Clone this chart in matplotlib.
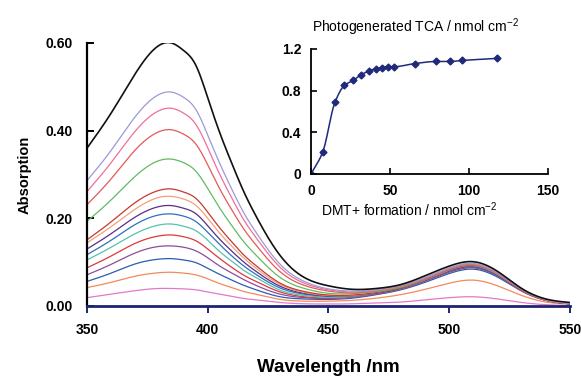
import numpy as np
import matplotlib
matplotlib.use("Agg")
import matplotlib.pyplot as plt

plt.rcParams['font.family'] = ['Liberation Sans', 'DejaVu Sans']
plt.rcParams['mathtext.fontset'] = 'custom'
plt.rcParams['mathtext.rm'] = 'Liberation Sans'
plt.rcParams['mathtext.it'] = 'Liberation Sans:italic'
plt.rcParams['mathtext.bf'] = 'Liberation Sans:bold'

# ---------------- data ----------------
wavelength = [350, 360, 370, 380, 385, 390, 395, 400, 405, 410, 415, 420, 430,
              440, 450, 460, 470, 480, 490, 500, 510, 520, 530, 540, 550]

spec_black = [.360, .440, .530, .595, .600, .583, .550, .475, .395, .325, .260, .205, .115,
              .065, .046, .038, .040, .049, .069, .091, .101, .079, .040, .016, .008]
spec_lavender = [.286, .355, .432, .483, .488, .476, .449, .390, .325, .266, .212, .168, .095,
                 .056, .039, .034, .037, .047, .065, .087, .097, .076, .039, .015, .006]
spec_pink = [.261, .327, .399, .446, .451, .440, .415, .361, .300, .246, .196, .156, .088,
             .052, .037, .032, .036, .046, .064, .086, .096, .075, .038, .014, .006]
spec_salmon = [.231, .290, .356, .398, .402, .392, .370, .322, .267, .219, .175, .139, .078,
               .047, .034, .030, .035, .045, .063, .085, .095, .074, .038, .014, .006]
spec_green = [.193, .242, .296, .332, .335, .327, .308, .268, .223, .183, .146, .116, .065,
              .040, .029, .028, .033, .043, .062, .084, .094, .073, .038, .014, .006]
spec_darkred = [.151, .192, .236, .264, .267, .260, .246, .214, .178, .146, .116, .092, .052,
                .033, .025, .025, .031, .042, .061, .083, .093, .073, .037, .014, .006]
spec_orange = [.144, .181, .221, .248, .250, .244, .230, .200, .166, .136, .109, .086, .049,
               .031, .024, .024, .031, .042, .060, .082, .092, .072, .037, .014, .006]
spec_purple = [.130, .165, .203, .227, .229, .223, .211, .183, .152, .125, .100, .079, .045,
               .029, .023, .024, .030, .041, .060, .081, .091, .071, .036, .014, .005]
spec_blue = [.117, .150, .186, .208, .210, .205, .193, .168, .140, .114, .091, .072, .041,
             .027, .022, .023, .029, .040, .058, .079, .089, .069, .036, .013, .005]
spec_teal = [.105, .134, .165, .185, .187, .182, .172, .150, .124, .102, .081, .065, .036,
             .024, .020, .022, .029, .040, .059, .080, .090, .070, .036, .0135, .005]
spec_red = [.087, .114, .143, .160, .162, .158, .149, .130, .108, .088, .070, .056, .032,
            .021, .018, .021, .028, .039, .057, .078, .088, .069, .035, .013, .005]
spec_violet = [.071, .095, .121, .136, .137, .134, .126, .110, .091, .075, .060, .047, .027,
               .019, .017, .020, .027, .038, .057, .077, .087, .068, .035, .013, .005]
spec_blue2 = [.056, .075, .096, .107, .108, .105, .099, .086, .072, .059, .047, .037, .021,
              .016, .015, .018, .026, .037, .054, .074, .084, .066, .034, .013, .005]
spec_orange2 = [.042, .054, .068, .076, .077, .075, .071, .062, .051, .042, .033, .027, .015,
                .011, .011, .013, .018, .026, .038, .052, .059, .046, .024, .009, .004]
spec_pink2 = [.019, .027, .035, .040, .040, .039, .037, .032, .027, .022, .017, .014, .008,
              .005, .0045, .005, .007, .009, .014, .019, .021, .016, .008, .003, .001]

spectra = [spec_black, spec_lavender, spec_pink, spec_salmon, spec_green, spec_darkred,
           spec_orange, spec_purple, spec_blue, spec_teal, spec_red, spec_violet,
           spec_blue2, spec_orange2, spec_pink2]
spec_colors = ['#111111', '#9a9ad8', '#ef6f98', '#e25a55', '#62bb62', '#c43a2e',
               '#f2a27a', '#5a2d86', '#2f6fbf', '#55c2ac', '#e0383a', '#8c4c9e',
               '#2a5cb2', '#f28a5c', '#e07ac8']

dmt = [0, 7.4, 15.2, 21.1, 26.8, 31.4, 36.9, 41.1, 45.1, 48.7, 52.5, 65.6, 78.9, 88.0, 95.8, 118]
tca = [0, 0.21, 0.69, 0.85, 0.90, 0.95, 0.99, 1.01, 1.02, 1.03, 1.03, 1.06, 1.08, 1.08, 1.09, 1.11]

main_xticks = [350, 400, 450, 500, 550]
main_yticks = [0.0, 0.2, 0.4, 0.6]
inset_xticks = [0, 50, 100, 150]
inset_yticks = [0, 0.4, 0.8, 1.2]


def pchip(x, y, xn):
    x = np.asarray(x, float); y = np.asarray(y, float)
    h = np.diff(x); d = np.diff(y) / h
    n = len(x)
    m = np.zeros(n)
    for k in range(1, n - 1):
        if d[k - 1] * d[k] > 0:
            w1 = 2 * h[k] + h[k - 1]; w2 = h[k] + 2 * h[k - 1]
            m[k] = (w1 + w2) / (w1 / d[k - 1] + w2 / d[k])
    m[0] = d[0]; m[-1] = d[-1]
    idx = np.clip(np.searchsorted(x, xn) - 1, 0, n - 2)
    t = (xn - x[idx]) / h[idx]
    h00 = 2 * t**3 - 3 * t**2 + 1; h10 = t**3 - 2 * t**2 + t
    h01 = -2 * t**3 + 3 * t**2; h11 = t**3 - t**2
    return h00 * y[idx] + h10 * h[idx] * m[idx] + h01 * y[idx + 1] + h11 * h[idx] * m[idx + 1]


def cspline(x, y, xn):
    """Natural cubic spline used only to draw a smooth line through the points."""
    x = np.asarray(x, float); y = np.asarray(y, float)
    n = len(x); h = np.diff(x)
    A = np.zeros((n, n)); r = np.zeros(n)
    A[0, 0] = 1; A[-1, -1] = 1
    for i in range(1, n - 1):
        A[i, i - 1] = h[i - 1]; A[i, i] = 2 * (h[i - 1] + h[i]); A[i, i + 1] = h[i]
        r[i] = 3 * ((y[i + 1] - y[i]) / h[i] - (y[i] - y[i - 1]) / h[i - 1])
    c = np.linalg.solve(A, r)
    b = np.diff(y) / h - h * (2 * c[:-1] + c[1:]) / 3
    d = np.diff(c) / (3 * h)
    idx = np.clip(np.searchsorted(x, xn) - 1, 0, n - 2)
    dx = xn - x[idx]
    return y[idx] + b[idx] * dx + c[idx] * dx**2 + d[idx] * dx**3


fig = plt.figure(figsize=(5.81, 3.78), dpi=100)
ax = fig.add_axes([0.1497, 0.1905, 0.8313, 0.6958])

wl_fine = np.linspace(wavelength[0], wavelength[-1], 800)
for s, c in reversed(list(zip(spectra, spec_colors))):
    lw = 1.2 if c == '#111111' else 0.9
    ax.plot(wl_fine, cspline(wavelength, s, wl_fine), color=c, lw=lw)

ax.set_xlim(350, 550)
ax.set_ylim(0, 0.60)
ax.set_xticks(main_xticks)
ax.set_yticks(main_yticks)
ax.set_yticklabels([f"{v:.2f}" for v in main_yticks])
for sp in ['top', 'right']:
    ax.spines[sp].set_visible(False)
ax.spines['left'].set_linewidth(1.6)
ax.spines['bottom'].set_linewidth(2.0)
ax.spines['bottom'].set_color('#1c2670')
ax.tick_params(axis='y', direction='in', length=5, width=1.4, pad=10, labelsize=10)
ax.tick_params(axis='x', direction='out', length=5, width=1.4, pad=7, labelsize=10,
               color='#1c2670')
for lab in ax.get_xticklabels() + ax.get_yticklabels():
    lab.set_fontweight('bold')
ax.set_xlabel('Wavelength /nm', fontsize=13.5, fontweight='bold', labelpad=16)
ax.set_ylabel('Absorption', fontsize=10.5, fontweight='bold', labelpad=10)

# inset
ins = fig.add_axes([0.5353, 0.5397, 0.4079, 0.3307])
xf = np.linspace(0, dmt[-1], 400)
ins.plot(xf, pchip(dmt, tca, xf), color='#1f2a7a', lw=1.1)
ins.plot(dmt, tca, 'D', color='#1f2a7a', ms=3.5)
ins.set_xlim(0, 150)
ins.set_ylim(0, 1.2)
ins.set_xticks(inset_xticks)
ins.set_yticks(inset_yticks)
ins.set_yticklabels(['0', '0.4', '0.8', '1.2'])
for sp in ['top', 'right']:
    ins.spines[sp].set_visible(False)
ins.patch.set_alpha(0)
ins.spines['left'].set_linewidth(1.3)
ins.spines['bottom'].set_linewidth(1.3)
ins.tick_params(direction='in', length=4, width=1.2, labelsize=10, pad=7)
for lab in ins.get_xticklabels() + ins.get_yticklabels():
    lab.set_fontweight('bold')
ins.set_title('Photogenerated TCA / nmol cm$^{-2}$', fontsize=10, pad=12, x=0.44)
ins.set_xlabel('DMT+ formation / nmol cm$^{-2}$', fontsize=10, labelpad=2)
ins.xaxis.set_label_coords(0.415, -0.215)

fig.savefig('out.png', dpi=100)
